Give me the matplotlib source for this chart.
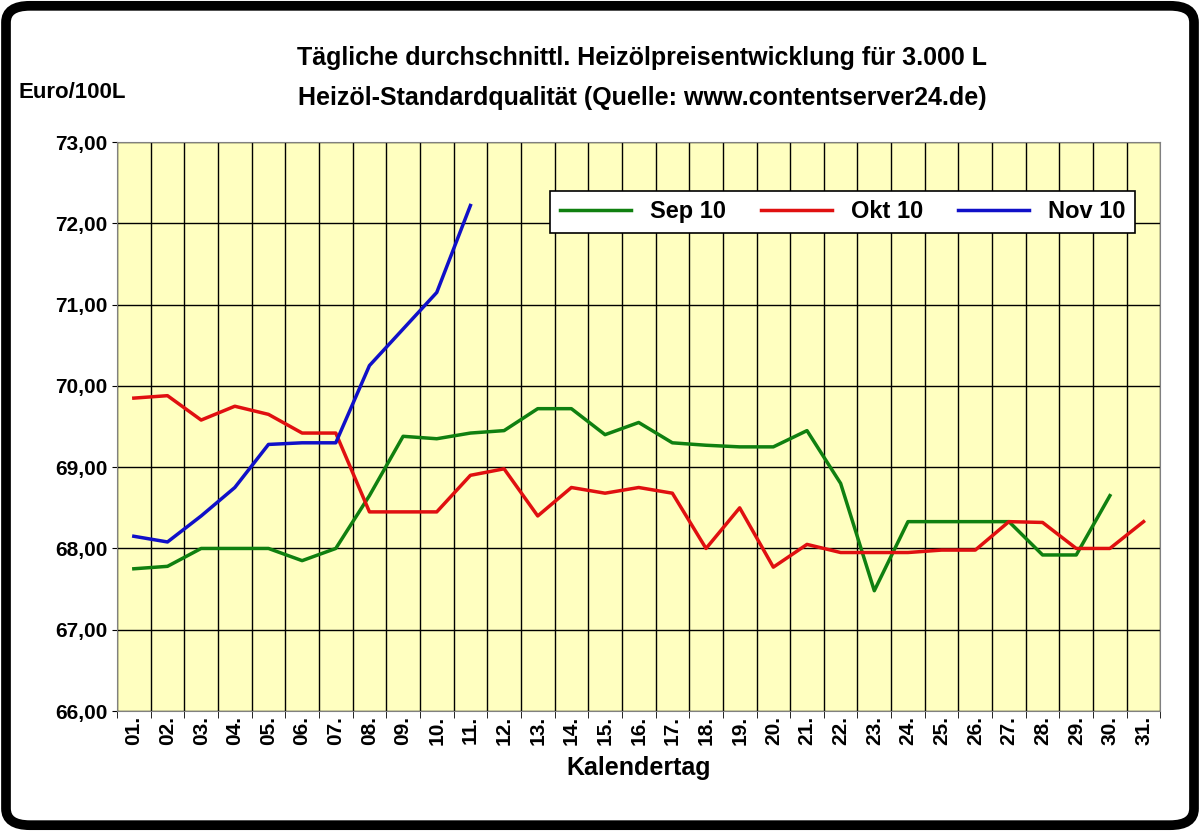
import numpy as np
import matplotlib
matplotlib.use("Agg")
import matplotlib.pyplot as plt
from matplotlib.patches import FancyBboxPatch

plt.rcParams['font.family'] = ['Liberation Sans', 'DejaVu Sans']
plt.rcParams['font.weight'] = 'bold'

# --- DATA ---
days = list(range(1, 32))
day_labels = [f"{d:02d}." for d in days]
sep10 = [67.75, 67.78, 68.0, 68.0, 68.0, 67.85, 68.0, 68.65, 69.38, 69.35, 69.42, 69.45,
         69.72, 69.72, 69.4, 69.55, 69.3, 69.27, 69.25, 69.25, 69.45, 68.8, 67.48, 68.33, 68.33,
         68.33, 68.33, 67.92, 67.92, 68.65]
okt10 = [69.85, 69.88, 69.58, 69.75, 69.65, 69.42, 69.42, 68.45, 68.45, 68.45, 68.9, 68.98,
         68.4, 68.75, 68.68, 68.75, 68.68, 68.0, 68.5, 67.77, 68.05, 67.95, 67.95, 67.95, 67.98,
         67.98, 68.33, 68.32, 68.0, 68.0, 68.33]
nov10 = [68.15, 68.08, 68.4, 68.75, 69.28, 69.3, 69.3, 70.25, 70.7, 71.15, 72.22]

fig = plt.figure(figsize=(12, 8.31), dpi=100)
fig.patch.set_facecolor('white')
fig.patches.append(FancyBboxPatch((0.005, 0.007), 0.99, 0.986, boxstyle="round,pad=0,rounding_size=0.02",
                                  transform=fig.transFigure, fill=False, edgecolor='black', linewidth=7))

ax = fig.add_axes([0.0975, 0.1444, 0.8695, 0.6846])
ax.set_facecolor('#FFFFC0')
ax.plot(days[:len(sep10)], sep10, color='#108010', lw=2.5, label='Sep 10')
ax.plot(days[:len(okt10)], okt10, color='#E01010', lw=2.5, label='Okt 10')
ax.plot(days[:len(nov10)], nov10, color='#1010C8', lw=2.5, label='Nov 10')

ax.set_xlim(0.5, 31.5)
ax.set_ylim(66, 73)
yt = np.arange(66, 73.01, 1)
ax.set_yticks(yt)
ax.set_yticklabels([f"{v:.2f}".replace('.', ',') for v in yt], fontsize=15)
ax.set_xticks(days)
ax.set_xticklabels(day_labels, rotation=90, fontsize=15)
ax.set_xticks(np.arange(0.5, 32, 1), minor=True)
ax.tick_params(axis='x', which='major', length=0)
ax.tick_params(axis='x', which='minor', length=5)
ax.grid(True, which='minor', axis='x', color='black', lw=1)
ax.grid(True, which='major', axis='y', color='black', lw=1)
for s in ax.spines.values():
    s.set_color('#808080')
ax.set_xlabel('Kalendertag', fontsize=18, fontweight='bold', labelpad=8)

leg = ax.legend(loc='upper right', bbox_to_anchor=(0.987, 0.935), ncol=3, fontsize=17,
                frameon=True, fancybox=False, edgecolor='black', framealpha=1,
                handlelength=3, columnspacing=1.5)
leg.get_frame().set_linewidth(1.2)

fig.text(0.535, 0.930, 'Tägliche durchschnittl. Heizölpreisentwicklung für 3.000 L', ha='center',
         va='center', fontsize=18, fontweight='bold')
fig.text(0.535, 0.882, 'Heizöl-Standardqualität (Quelle: www.contentserver24.de)', ha='center',
         va='center', fontsize=18, fontweight='bold')
fig.text(0.015, 0.889, 'Euro/100L', va='center', fontsize=16, fontweight='bold')

fig.savefig('out.png', dpi=100)
